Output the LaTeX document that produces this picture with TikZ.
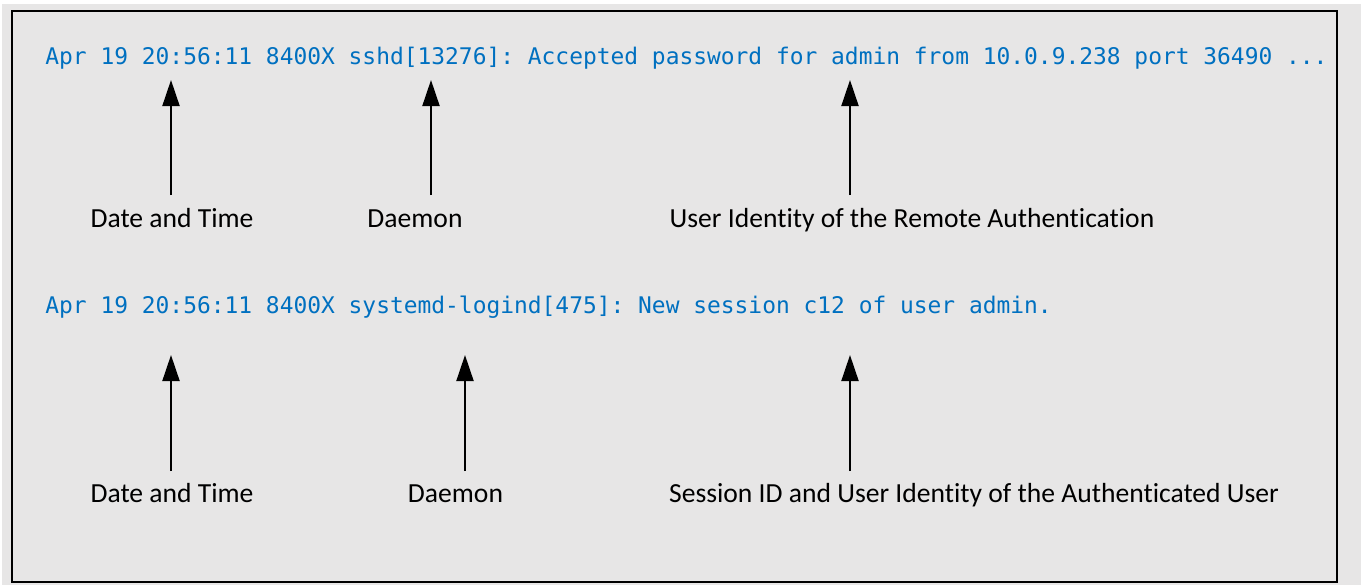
\documentclass[tikz,border=0pt]{standalone}
\usepackage{fontspec}
\setmonofont{DejaVu Sans Mono}
\newfontfamily\labfont[Ligatures={NoCommon}]{Carlito}
\usetikzlibrary{arrows.meta}
\definecolor{bggray}{HTML}{E7E6E6}
\definecolor{logblue}{HTML}{0070C0}
\tikzset{
  logline/.style={anchor=base west, inner sep=0pt, text=logblue, font=\fontsize{11.45pt}{13pt}\ttfamily},
  fieldlabel/.style={anchor=base, inner sep=0pt, text=black, font=\fontsize{13.8pt}{16pt}\labfont},
  pointer/.style={draw=black, line width=1pt, -{Triangle[length=13pt, width=8.5pt]}}
}
\begin{document}
\begin{tikzpicture}[x=0.5pt, y=-0.5pt]
\useasboundingbox (0,0) rectangle (1361,585);
% page background
\fill[white] (0,0) rectangle (1361,585);
\fill[bggray] (2,4) rectangle (1361,585);
% frame
\draw[black, line width=1pt, fill=bggray] (12,11) rectangle (1337,582);

% log lines
\node[logline] (log1) at (45,64) {Apr 19 20:56:11 8400X sshd[13276]: Accepted password for admin from 10.0.9.238 port 36490 ...};
\node[logline] (log2) at (45,313) {Apr 19 20:56:11 8400X systemd-logind[475]: New session c12 of user admin.};

% labels, first line
\node[fieldlabel] (l1a) at (172,227) {Date and Time};
\node[fieldlabel] (l1b) at (415,227) {Daemon};
\node[fieldlabel] (l1c) at (912,227) {User Identity of the Remote Authentication};
% labels, second line
\node[fieldlabel] (l2a) at (172,502) {Date and Time};
\node[fieldlabel] (l2b) at (455.5,502) {Daemon};
\node[fieldlabel] (l2c) at (974,502) {Session ID and User Identity of the Authenticated User};

% arrow end points
\coordinate (t1a) at (171,195); \coordinate (h1a) at (171,80);
\coordinate (t1b) at (431,195); \coordinate (h1b) at (431,80);
\coordinate (t1c) at (850,195); \coordinate (h1c) at (850,80);
\coordinate (t2a) at (171,471); \coordinate (h2a) at (171,355);
\coordinate (t2b) at (465,471); \coordinate (h2b) at (465,355);
\coordinate (t2c) at (850,471); \coordinate (h2c) at (850,355);

\draw[pointer] (t1a) -- (h1a);
\draw[pointer] (t1b) -- (h1b);
\draw[pointer] (t1c) -- (h1c);
\draw[pointer] (t2a) -- (h2a);
\draw[pointer] (t2b) -- (h2b);
\draw[pointer] (t2c) -- (h2c);
\end{tikzpicture}
\end{document}
